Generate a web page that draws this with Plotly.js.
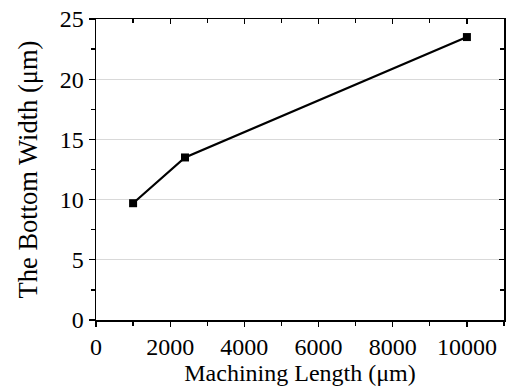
<!DOCTYPE html>
<html>
<head>
<meta charset="utf-8">
<script src="https://cdn.plot.ly/plotly-3.0.1.min.js"></script>
<style>html,body{margin:0;padding:0;background:#fff;}#chart{width:508px;height:389px;}</style>
</head>
<body>
<div id="chart"></div>
<script>
const machiningLength = [1000, 2400, 10000];
const bottomWidth = [9.7, 13.5, 23.5];
const xTitle = 'Machining Length (μm)';
const yTitle = 'The Bottom Width (μm)';

function mkFont(sz) { return {family: 'Liberation Serif', color: '#000000', size: sz}; }

const trace = {
  x: machiningLength, y: bottomWidth, type: 'scatter', mode: 'lines+markers',
  line: {color: '#000000', width: 2.2},
  marker: {symbol: 'square', size: 8, color: '#000000'},
  showlegend: false
};

const helperTop = {x: machiningLength, y: bottomWidth, xaxis: 'x2', yaxis: 'y', type: 'scatter', mode: 'markers',
  marker: {opacity: 0, size: 1}, showlegend: false, hoverinfo: 'skip'};
const helperRight = {x: machiningLength, y: bottomWidth, xaxis: 'x', yaxis: 'y2', type: 'scatter', mode: 'markers',
  marker: {opacity: 0, size: 1}, showlegend: false, hoverinfo: 'skip'};

const layout = {
  width: 508, height: 389,
  margin: {l: 96, r: 4, t: 19, b: 69},
  paper_bgcolor: '#ffffff', plot_bgcolor: '#ffffff',
  font: mkFont(24),
  showlegend: false,
  xaxis: {
    range: [0, 11000], dtick: 2000, tick0: 0, tickformat: 'd',
    ticks: 'outside', ticklen: 5, tickwidth: 1.3, tickcolor: '#000000',
    minor: {dtick: 1000, ticks: 'outside', ticklen: 4, tickwidth: 1.3, tickcolor: '#000000'},
    showline: true, linecolor: '#000000', linewidth: 1.5,
    showgrid: false, zeroline: false,
    tickfont: mkFont(24),
    title: {text: xTitle, font: mkFont(24), standoff: 2}
  },
  yaxis: {
    range: [0, 25], dtick: 5, tick0: 0,
    ticks: 'outside', ticklen: 6, tickwidth: 1.3, tickcolor: '#000000',
    minor: {dtick: 2.5, ticks: 'outside', ticklen: 4, tickwidth: 1.3, tickcolor: '#000000'},
    showline: true, linecolor: '#000000', linewidth: 1.5,
    showgrid: true, gridcolor: '#d9d9d9', gridwidth: 1,
    zeroline: false,
    tickfont: mkFont(24),
    title: {text: yTitle, font: mkFont(26.5), standoff: 14}
  },
  xaxis2: {
    overlaying: 'x', side: 'top', anchor: 'y', range: [0, 11000], dtick: 2000, tick0: 0,
    ticks: 'inside', ticklen: 5, tickwidth: 1.3, tickcolor: '#000000',
    minor: {dtick: 1000, ticks: 'inside', ticklen: 4, tickwidth: 1.3, tickcolor: '#000000'},
    showticklabels: false, showline: true, linecolor: '#000000', linewidth: 1.5,
    showgrid: false, zeroline: false
  },
  yaxis2: {
    overlaying: 'y', side: 'right', anchor: 'x', range: [0, 25], dtick: 5, tick0: 0,
    ticks: 'inside', ticklen: 5, tickwidth: 1.3, tickcolor: '#000000',
    minor: {dtick: 2.5, ticks: 'inside', ticklen: 4, tickwidth: 1.3, tickcolor: '#000000'},
    showticklabels: false, showline: true, linecolor: '#000000', linewidth: 1.5,
    showgrid: false, zeroline: false
  }
};

Plotly.newPlot('chart', [trace, helperTop, helperRight], layout, {displayModeBar: false, staticPlot: true});
</script>
</body>
</html>
